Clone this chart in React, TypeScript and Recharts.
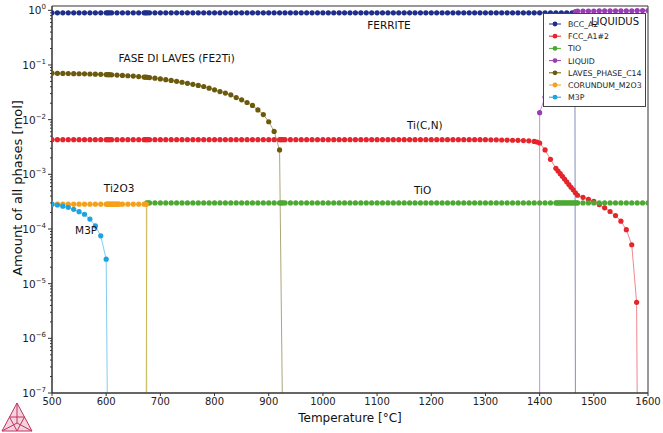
import { LineChart, Line, XAxis, YAxis, ReferenceArea, ReferenceDot } from "recharts";

type Pt = [number, number];

const FONT = "'DejaVu Sans', sans-serif";
const FLOOR = 1e-7;
const Y_TOP = 1.2;

const X_TICKS = [500, 600, 700, 800, 900, 1000, 1100, 1200, 1300, 1400, 1500, 1600];
const Y_EXP = [-7, -6, -5, -4, -3, -2, -1, 0];
const Y_MAJOR = Y_EXP.map((e) => Math.pow(10, e));
const Y_MINOR = Y_MAJOR.slice(0, -1).flatMap((d) => [2, 3, 4, 5, 6, 7, 8, 9].map((k) => k * d));
const Y_TICKS = [...Y_MAJOR, ...Y_MINOR].sort((a, b) => a - b);

// [temperature °C, amount mol]; FLOOR marks where a phase drops out
const BCC_A2: Pt[] = [
  [500, 0.9], [510, 0.9], [520, 0.9], [530, 0.9], [540, 0.9], [550, 0.9], [560, 0.9], [570, 0.9], [580, 0.9], [590, 0.9],
  [600, 0.9], [603, 0.9], [606, 0.9], [610, 0.9], [620, 0.9], [630, 0.9], [640, 0.9], [650, 0.9], [660, 0.9], [670, 0.9],
  [673, 0.9], [676, 0.9], [680, 0.9], [690, 0.9], [700, 0.9], [710, 0.9], [720, 0.9], [730, 0.9], [740, 0.9], [750, 0.9],
  [760, 0.9], [770, 0.9], [780, 0.9], [790, 0.9], [800, 0.9], [810, 0.9], [820, 0.9], [830, 0.9], [840, 0.9], [850, 0.9],
  [860, 0.9], [870, 0.9], [880, 0.9], [890, 0.9], [900, 0.9], [910, 0.9], [920, 0.9], [930, 0.9], [940, 0.9], [950, 0.9],
  [960, 0.9], [970, 0.9], [980, 0.9], [990, 0.9], [1000, 0.9], [1010, 0.9], [1020, 0.9], [1030, 0.9], [1040, 0.9], [1050, 0.9],
  [1060, 0.9], [1070, 0.9], [1080, 0.9], [1090, 0.9], [1100, 0.9], [1110, 0.9], [1120, 0.9], [1130, 0.9], [1140, 0.9], [1150, 0.9],
  [1160, 0.9], [1170, 0.9], [1180, 0.9], [1190, 0.9], [1200, 0.9], [1210, 0.9], [1220, 0.9], [1230, 0.9], [1240, 0.9], [1250, 0.9],
  [1260, 0.9], [1270, 0.9], [1280, 0.9], [1290, 0.9], [1300, 0.9], [1310, 0.9], [1320, 0.9], [1330, 0.9], [1340, 0.9], [1350, 0.9],
  [1360, 0.9], [1370, 0.9], [1380, 0.9], [1390, 0.9], [1400, 0.9], [1410, 0.9], [1420, 0.9], [1430, 0.9], [1440, 0.9], [1450, 0.9],
  [1460, 0.9], [1465, 0.9], [1466, FLOOR],
];

const FCC_A1_2: Pt[] = [
  [500, 4.3e-3], [510, 4.3e-3], [520, 4.3e-3], [530, 4.3e-3], [540, 4.3e-3], [550, 4.3e-3], [560, 4.3e-3], [570, 4.3e-3], [580, 4.3e-3], [590, 4.3e-3],
  [600, 4.3e-3], [603, 4.3e-3], [606, 4.3e-3], [610, 4.3e-3], [620, 4.3e-3], [630, 4.3e-3], [640, 4.3e-3], [650, 4.3e-3], [660, 4.3e-3], [670, 4.3e-3],
  [673, 4.3e-3], [676, 4.3e-3], [680, 4.3e-3], [690, 4.3e-3], [700, 4.3e-3], [710, 4.3e-3], [720, 4.3e-3], [730, 4.3e-3], [740, 4.3e-3], [750, 4.3e-3],
  [760, 4.3e-3], [770, 4.3e-3], [780, 4.3e-3], [790, 4.3e-3], [800, 4.3e-3], [810, 4.3e-3], [820, 4.3e-3], [830, 4.3e-3], [840, 4.3e-3], [850, 4.3e-3],
  [860, 4.3e-3], [870, 4.3e-3], [880, 4.3e-3], [890, 4.3e-3], [900, 4.3e-3], [910, 4.3e-3], [920, 4.3e-3], [923, 4.3e-3], [926, 4.3e-3], [930, 4.3e-3],
  [940, 4.3e-3], [950, 4.3e-3], [960, 4.3e-3], [970, 4.3e-3], [980, 4.3e-3], [990, 4.3e-3], [1000, 4.3e-3], [1010, 4.3e-3], [1020, 4.3e-3], [1030, 4.3e-3],
  [1040, 4.3e-3], [1050, 4.3e-3], [1060, 4.3e-3], [1070, 4.3e-3], [1080, 4.3e-3], [1090, 4.3e-3], [1100, 4.3e-3], [1110, 4.3e-3], [1120, 4.3e-3], [1130, 4.3e-3],
  [1140, 4.3e-3], [1150, 4.3e-3], [1160, 4.3e-3], [1170, 4.3e-3], [1180, 4.3e-3], [1190, 4.3e-3], [1200, 4.3e-3], [1210, 4.3e-3], [1220, 4.3e-3], [1230, 4.3e-3],
  [1240, 4.3e-3], [1250, 4.3e-3], [1260, 4.3e-3], [1270, 4.3e-3], [1280, 4.3e-3], [1290, 4.3e-3], [1300, 4.3e-3], [1310, 4.28e-3], [1320, 4.27e-3], [1330, 4.25e-3],
  [1340, 4.23e-3], [1350, 4.2e-3], [1360, 4.18e-3], [1370, 4.15e-3], [1380, 4.1e-3], [1390, 4.0e-3], [1395, 3.9e-3], [1400, 3.74e-3],
  [1410, 2.79e-3], [1420, 1.88e-3], [1430, 1.29e-3], [1434, 1.15e-3], [1438, 1.03e-3], [1442, 9.2e-4], [1446, 8.2e-4], [1450, 7.3e-4],
  [1454, 6.5e-4], [1458, 5.8e-4], [1462, 5.2e-4], [1466, 4.6e-4], [1470, 4.14e-4], [1480, 3.8e-4], [1490, 3.5e-4], [1500, 3.22e-4],
  [1510, 2.8e-4], [1520, 2.44e-4], [1530, 2.09e-4], [1540, 1.76e-4], [1550, 1.39e-4], [1560, 9.7e-5], [1570, 5.15e-5], [1579, 4.56e-6],
  [1580, FLOOR],
];

const TIO: Pt[] = [
  [674, FLOOR], [675, 3.0e-4], [677, 3.0e-4], [680, 3.0e-4], [690, 3.0e-4], [700, 3.0e-4], [710, 3.0e-4], [720, 3.0e-4], [730, 3.0e-4], [740, 3.0e-4],
  [750, 3.0e-4], [760, 3.0e-4], [770, 3.0e-4], [780, 3.0e-4], [790, 3.0e-4], [800, 3.0e-4], [810, 3.0e-4], [820, 3.0e-4], [830, 3.0e-4], [840, 3.0e-4],
  [850, 3.0e-4], [860, 3.0e-4], [870, 3.0e-4], [880, 3.0e-4], [890, 3.0e-4], [900, 3.0e-4], [910, 3.0e-4], [920, 3.0e-4], [923, 3.0e-4], [926, 3.0e-4],
  [930, 3.0e-4], [940, 3.0e-4], [950, 3.0e-4], [960, 3.0e-4], [970, 3.0e-4], [980, 3.0e-4], [990, 3.0e-4], [1000, 3.0e-4], [1010, 3.0e-4], [1020, 3.0e-4],
  [1030, 3.0e-4], [1040, 3.0e-4], [1050, 3.0e-4], [1060, 3.0e-4], [1070, 3.0e-4], [1080, 3.0e-4], [1090, 3.0e-4], [1100, 3.0e-4], [1110, 3.0e-4], [1120, 3.0e-4],
  [1130, 3.0e-4], [1140, 3.0e-4], [1150, 3.0e-4], [1160, 3.0e-4], [1170, 3.0e-4], [1180, 3.0e-4], [1190, 3.0e-4], [1200, 3.0e-4], [1210, 3.0e-4], [1220, 3.0e-4],
  [1230, 3.0e-4], [1240, 3.0e-4], [1250, 3.0e-4], [1260, 3.0e-4], [1270, 3.0e-4], [1280, 3.0e-4], [1290, 3.0e-4], [1300, 3.0e-4], [1310, 3.0e-4], [1320, 3.0e-4],
  [1330, 3.0e-4], [1340, 3.0e-4], [1350, 3.0e-4], [1360, 3.0e-4], [1370, 3.0e-4], [1380, 3.0e-4], [1390, 3.0e-4], [1400, 3.0e-4], [1410, 3.0e-4], [1420, 3.0e-4],
  [1430, 3.0e-4], [1432, 3.0e-4], [1435, 3.0e-4], [1438, 3.0e-4], [1441, 3.0e-4], [1444, 3.0e-4], [1447, 3.0e-4], [1450, 3.0e-4], [1453, 3.0e-4], [1456, 3.0e-4],
  [1459, 3.0e-4], [1462, 3.0e-4], [1465, 3.0e-4], [1468, 3.0e-4], [1470, 3.0e-4], [1480, 3.0e-4], [1490, 3.0e-4], [1500, 3.0e-4], [1510, 3.0e-4], [1520, 3.0e-4],
  [1530, 3.0e-4], [1540, 3.0e-4], [1550, 3.0e-4], [1560, 3.0e-4], [1570, 3.0e-4], [1580, 3.0e-4], [1590, 3.0e-4], [1600, 3.0e-4],
];

const LIQUID: Pt[] = [
  [1400, FLOOR], [1400, 0.0134], [1410, 0.026], [1420, 0.08], [1430, 0.18], [1440, 0.32], [1450, 0.5], [1460, 0.75], [1466, 0.95],
  [1470, 0.97], [1480, 0.97], [1490, 0.97], [1500, 0.97], [1510, 0.98], [1520, 0.98], [1530, 0.98], [1540, 0.98], [1550, 0.98],
  [1560, 0.98], [1570, 0.98], [1580, 0.99], [1590, 0.99], [1600, 0.99],
];

const LAVES_PHASE_C14: Pt[] = [
  [500, 0.0708], [510, 0.0705], [520, 0.0702], [530, 0.0699], [540, 0.0695], [550, 0.0692], [560, 0.0688], [570, 0.0684], [580, 0.0679], [590, 0.0674],
  [600, 0.0668], [603, 0.0666], [606, 0.0664], [610, 0.0661], [620, 0.0654], [630, 0.0645], [640, 0.0636], [650, 0.0626], [660, 0.0615], [670, 0.0602],
  [673, 0.0598], [676, 0.0594], [680, 0.0588], [690, 0.0573], [700, 0.0557], [710, 0.054], [720, 0.0522], [730, 0.0503], [740, 0.0483], [750, 0.0463],
  [760, 0.0443], [770, 0.0423], [780, 0.0404], [790, 0.0377], [800, 0.0351], [810, 0.0327], [820, 0.0306], [830, 0.0285], [840, 0.0254], [850, 0.0231],
  [860, 0.0206], [870, 0.0182], [880, 0.0151], [890, 0.0124], [900, 0.00916], [910, 0.0061], [920, 0.00279], [925, FLOOR],
];

const CORUNDUM_M2O3: Pt[] = [
  [500, 2.85e-4], [510, 2.85e-4], [520, 2.85e-4], [530, 2.85e-4], [540, 2.85e-4], [550, 2.85e-4], [560, 2.85e-4], [570, 2.85e-4], [580, 2.85e-4], [590, 2.85e-4],
  [600, 2.85e-4], [602, 2.85e-4], [604, 2.85e-4], [606, 2.85e-4], [608, 2.85e-4], [610, 2.85e-4], [612, 2.85e-4], [614, 2.85e-4], [616, 2.85e-4], [618, 2.85e-4],
  [620, 2.85e-4], [622, 2.85e-4], [624, 2.85e-4], [630, 2.85e-4], [640, 2.85e-4], [650, 2.85e-4], [660, 2.85e-4], [670, 2.85e-4], [674, 2.85e-4], [675, FLOOR],
];

const M3P: Pt[] = [
  [500, 2.85e-4], [510, 2.75e-4], [520, 2.62e-4], [530, 2.49e-4], [540, 2.29e-4], [550, 2.07e-4], [560, 1.86e-4], [570, 1.52e-4],
  [580, 1.14e-4], [590, 7.5e-5], [600, 2.8e-5], [602, FLOOR],
];

const SERIES = [
  { name: "BCC_A2", color: "#1f2e88", pts: BCC_A2 },
  { name: "FCC_A1#2", color: "#e4252c", pts: FCC_A1_2 },
  { name: "TIO", color: "#4ca832", pts: TIO },
  { name: "LIQUID", color: "#9a3cb2", pts: LIQUID },
  { name: "LAVES_PHASE_C14", color: "#6c5a0c", pts: LAVES_PHASE_C14 },
  { name: "CORUNDUM_M2O3", color: "#f5a01a", pts: CORUNDUM_M2O3 },
  { name: "M3P", color: "#1ca3e0", pts: M3P },
];

const NOTES = [
  { text: "FERRITE", t: 1122, v: 0.54 },
  { text: "FASE DI LAVES (FE2Ti)", t: 730, v: 0.134 },
  { text: "Ti(C,N)", t: 1188, v: 7.98e-3 },
  { text: "TiO", t: 1184, v: 5.06e-4 },
  { text: "Ti2O3", t: 624, v: 5.62e-4 },
  { text: "M3P", t: 563, v: 9.57e-5 },
];

const toRows = (pts: Pt[]) => pts.map(([t, v]) => ({ t, v }));

const dotFor = (color: string) => (p: any) => {
  const { cx, cy, payload, index } = p;
  if (cx == null || cy == null || payload.v <= FLOOR) return <g key={index} />;
  return <circle key={index} cx={cx} cy={cy} r={2.6} fill={color} />;
};

function YTick(props: any) {
  const { x, y, payload } = props;
  const v = payload.value;
  const i = Y_MAJOR.indexOf(v);
  if (i < 0) {
    return <line x1={x} x2={x - 2} y1={y} y2={y} stroke="#333" />;
  }
  const e = Y_EXP[i];
  return (
    <g>
      <line x1={x} x2={x - 4} y1={y} y2={y} stroke="#333" />
      <text x={x - 6} y={y + 4} textAnchor="end" fontSize={10.5} fill="#222" fontFamily={FONT}>
        10
        <tspan dy={-5} fontSize={7}>{e < 0 ? `\u2212${-e}` : `${e}`}</tspan>
      </text>
    </g>
  );
}

export default function App() {
  return (
    <div style={{ position: "absolute", left: 0, top: 0, width: 663, height: 433, background: "#fff", fontFamily: FONT }}>
      <LineChart width={663} height={433} margin={{ top: 6, right: 15, bottom: 10, left: 0 }}>
        <XAxis
          type="number"
          dataKey="t"
          domain={[500, 1600]}
          ticks={X_TICKS}
          interval={0}
          allowDataOverflow
          height={30}
          tickSize={3}
          tickMargin={2}
          stroke="#333"
          tick={{ fontSize: 10, fill: "#222", fontFamily: FONT }}
        />
        <YAxis
          type="number"
          scale="log"
          domain={[FLOOR, Y_TOP]}
          ticks={Y_TICKS}
          interval={0}
          allowDataOverflow
          width={52}
          tickSize={0}
          tickMargin={0}
          tickLine={false}
          stroke="#333"
          tick={(p: any) => <YTick {...p} />}
        />
        <ReferenceArea x1={500} x2={1600} y1={FLOOR} y2={Y_TOP} fill="none" stroke="#333" strokeWidth={1} ifOverflow="visible" />
        {SERIES.map((s) => (
          <Line
            key={s.name}
            data={toRows(s.pts)}
            dataKey="v"
            name={s.name}
            type="linear"
            stroke={s.color}
            strokeWidth={1}
            strokeOpacity={0.55}
            dot={dotFor(s.color)}
            activeDot={false}
            isAnimationActive={false}
          />
        ))}
        {NOTES.map((n) => (
          <ReferenceDot
            key={n.text}
            x={n.t}
            y={n.v}
            r={0}
            fill="none"
            stroke="none"
            label={{ value: n.text, position: "center", fontSize: 10.5, fill: "#111", fontFamily: FONT }}
          />
        ))}
      </LineChart>

      <svg width={663} height={433} style={{ position: "absolute", left: 0, top: 0, pointerEvents: "none" }}>
        {/* legend */}
        <rect x={543.5} y={13.5} width={102} height={93} fill="#fff" stroke="#444" />
        {SERIES.map((s, i) => {
          const y = 24 + i * 12.2;
          return (
            <g key={s.name}>
              <line x1={549} x2={561} y1={y} y2={y} stroke={s.color} />
              <circle cx={555} cy={y} r={2.4} fill={s.color} />
              <text x={568} y={y + 3} fontSize={7.8} fill="#222" fontFamily={FONT}>{s.name}</text>
            </g>
          );
        })}
        <text x={615} y={25} textAnchor="middle" fontSize={10} fill="#111" fontFamily={FONT}>LIQUIDUS</text>

        {/* axis titles */}
        <text x={350} y={422} textAnchor="middle" fontSize={12} fill="#111" fontFamily={FONT}>Temperature [°C]</text>
        <text transform="translate(22,188) rotate(-90)" textAnchor="middle" fontSize={13} fill="#111" fontFamily={FONT}>
          Amount of all phases [mol]
        </text>

        {/* logo */}
        <g stroke="#c23260" strokeWidth={1} fill="none">
          <polygon points="2,431 17,403 32,431" fill="#f3d3dd" />
          <line x1={17} y1={403} x2={17} y2={423} />
          <line x1={2} y1={431} x2={17} y2={423} />
          <line x1={32} y1={431} x2={17} y2={423} />
          <polygon points="9.5,417 24.5,417 17,431" />
        </g>
      </svg>
    </div>
  );
}
